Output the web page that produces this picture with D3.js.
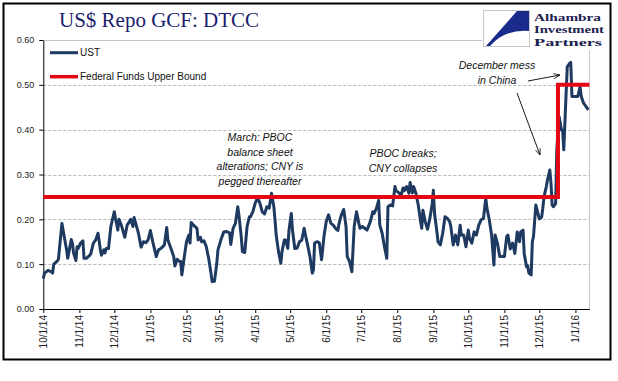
<!DOCTYPE html>
<html>
<head>
<meta charset="utf-8">
<script src="https://cdn.jsdelivr.net/npm/d3@7"></script>
<style>
  body { margin: 0; background: #fff; }
  svg { display: block; }
</style>
</head>
<body>
<svg id="chart" width="618" height="381"></svg>
<script>
// UST repo GCF rate (one line per month)
const ustDates = [
  "2014-10-01","2014-10-02","2014-10-05","2014-10-08","2014-10-09","2014-10-10","2014-10-13","2014-10-14","2014-10-17","2014-10-19","2014-10-21","2014-10-22","2014-10-25","2014-10-26","2014-10-27","2014-10-29","2014-10-30","2014-10-31",
  "2014-11-02","2014-11-04","2014-11-05","2014-11-07","2014-11-10","2014-11-11","2014-11-13","2014-11-15","2014-11-17","2014-11-19","2014-11-20","2014-11-22","2014-11-23","2014-11-24","2014-11-26","2014-11-28",
  "2014-12-01","2014-12-02","2014-12-04","2014-12-05","2014-12-07","2014-12-10","2014-12-12","2014-12-14","2014-12-15","2014-12-17","2014-12-18","2014-12-21","2014-12-22","2014-12-24","2014-12-26","2014-12-28","2014-12-30",
  "2015-01-01","2015-01-03","2015-01-06","2015-01-08","2015-01-10","2015-01-13","2015-01-15","2015-01-16","2015-01-19","2015-01-21","2015-01-22","2015-01-24","2015-01-26","2015-01-27","2015-01-28","2015-01-30",
  "2015-02-01","2015-02-03","2015-02-04","2015-02-05","2015-02-07","2015-02-10","2015-02-11","2015-02-13","2015-02-14","2015-02-16","2015-02-18","2015-02-20","2015-02-22","2015-02-23","2015-02-25","2015-02-27","2015-02-28",
  "2015-03-03","2015-03-05","2015-03-07","2015-03-10","2015-03-11","2015-03-13","2015-03-15","2015-03-17","2015-03-18","2015-03-20","2015-03-21","2015-03-23","2015-03-25","2015-03-27","2015-03-28","2015-03-30",
  "2015-04-01","2015-04-03","2015-04-05","2015-04-07","2015-04-09","2015-04-11","2015-04-13","2015-04-15","2015-04-17","2015-04-18","2015-04-19","2015-04-21","2015-04-23","2015-04-24","2015-04-26","2015-04-27","2015-04-29","2015-04-30",
  "2015-05-02","2015-05-03","2015-05-05","2015-05-07","2015-05-09","2015-05-11","2015-05-13","2015-05-15","2015-05-16","2015-05-18","2015-05-20","2015-05-21","2015-05-22","2015-05-24","2015-05-26","2015-05-28","2015-05-30",
  "2015-06-01","2015-06-03","2015-06-05","2015-06-07","2015-06-09","2015-06-11","2015-06-12","2015-06-14","2015-06-16","2015-06-18","2015-06-19","2015-06-21","2015-06-23","2015-06-25","2015-06-27","2015-06-29","2015-06-30",
  "2015-07-02","2015-07-04","2015-07-06","2015-07-09","2015-07-11","2015-07-12","2015-07-14","2015-07-16","2015-07-17","2015-07-19","2015-07-21","2015-07-23","2015-07-24","2015-07-26","2015-07-28","2015-07-30","2015-07-31",
  "2015-08-03","2015-08-04","2015-08-06","2015-08-07","2015-08-09","2015-08-11","2015-08-12","2015-08-14","2015-08-15","2015-08-17","2015-08-19","2015-08-21","2015-08-22","2015-08-23","2015-08-25","2015-08-27","2015-08-29","2015-08-31",
  "2015-09-01","2015-09-02","2015-09-04","2015-09-05","2015-09-07","2015-09-09","2015-09-11","2015-09-13","2015-09-15","2015-09-16","2015-09-18","2015-09-20","2015-09-22","2015-09-24","2015-09-25","2015-09-27","2015-09-29",
  "2015-10-01","2015-10-02","2015-10-04","2015-10-06","2015-10-08","2015-10-10","2015-10-12","2015-10-14","2015-10-16","2015-10-17","2015-10-19","2015-10-21","2015-10-22","2015-10-23","2015-10-24","2015-10-26","2015-10-28","2015-10-30",
  "2015-11-01","2015-11-03","2015-11-04","2015-11-06","2015-11-08","2015-11-10","2015-11-12","2015-11-14","2015-11-15","2015-11-17","2015-11-18","2015-11-20","2015-11-21","2015-11-22","2015-11-24","2015-11-25","2015-11-26","2015-11-28","2015-11-30",
  "2015-12-01","2015-12-03","2015-12-04","2015-12-05","2015-12-07","2015-12-08","2015-12-10","2015-12-11","2015-12-12","2015-12-13","2015-12-15","2015-12-16","2015-12-18","2015-12-20","2015-12-21","2015-12-22","2015-12-24","2015-12-25","2015-12-27","2015-12-28","2015-12-29",
  "2016-01-01","2016-01-03","2016-01-05","2016-01-06","2016-01-08","2016-01-10","2016-01-12"
];
const ustValues = [
  0.068,0.080,0.086,0.083,0.080,0.100,0.107,0.111,0.191,0.161,0.132,0.113,0.155,0.147,0.125,0.108,0.139,0.135,
  0.147,0.152,0.113,0.113,0.120,0.125,0.147,0.154,0.169,0.132,0.120,0.132,0.125,0.135,0.135,0.184,
  0.217,0.202,0.176,0.200,0.187,0.160,0.187,0.195,0.200,0.184,0.204,0.176,0.165,0.138,0.150,0.148,0.154,
  0.175,0.150,0.117,0.132,0.135,0.143,0.182,0.154,0.132,0.117,0.096,0.111,0.106,0.106,0.076,0.115,
  0.150,0.165,0.147,0.193,0.187,0.180,0.154,0.160,0.150,0.152,0.139,0.113,0.080,0.061,0.062,0.102,0.132,
  0.158,0.172,0.173,0.170,0.144,0.180,0.191,0.228,0.210,0.161,0.128,0.126,0.184,0.206,0.206,0.217,
  0.236,0.249,0.236,0.217,0.212,0.228,0.225,0.258,0.228,0.199,0.165,0.128,0.102,0.128,0.154,0.154,0.135,0.176,
  0.213,0.176,0.135,0.136,0.150,0.154,0.180,0.154,0.143,0.117,0.080,0.087,0.147,0.150,0.148,0.110,0.161,
  0.195,0.210,0.191,0.187,0.180,0.175,0.191,0.210,0.222,0.184,0.117,0.106,0.083,0.184,0.217,0.191,0.180,
  0.184,0.180,0.176,0.196,0.217,0.213,0.224,0.242,0.187,0.169,0.139,0.113,0.228,0.232,0.230,0.273,0.264,
  0.258,0.250,0.270,0.264,0.273,0.258,0.282,0.259,0.273,0.258,0.232,0.196,0.180,0.220,0.195,0.178,0.202,0.235,
  0.265,0.213,0.173,0.150,0.143,0.169,0.206,0.202,0.195,0.184,0.143,0.165,0.143,0.187,0.165,0.165,0.139,
  0.176,0.158,0.147,0.172,0.165,0.187,0.199,0.202,0.247,0.225,0.199,0.165,0.132,0.098,0.165,0.147,0.117,0.117,
  0.117,0.162,0.165,0.134,0.147,0.124,0.172,0.150,0.172,0.176,0.124,0.094,0.096,0.080,0.076,0.150,0.162,0.232,0.211,
  0.201,0.205,0.225,0.250,0.273,0.288,0.310,0.281,0.232,0.228,0.235,0.355,0.429,0.399,0.399,0.355,0.481,0.540,0.548,0.550,0.474,
  0.474,0.474,0.496,0.474,0.459,0.452,0.444
];

// Federal funds upper bound (step)
const fedDates = ["2014-10-01", "2015-12-17", "2016-01-13"];
const fedValues = [0.25, 0.50, 0.50];

const xDomain = ["2014-10-01", "2016-01-13"];
const yTicks = [0, 0.1, 0.2, 0.3, 0.4, 0.5, 0.6];
const seriesNames = ["UST", "Federal Funds Upper Bound"];

const notes = [
  { lines: ["March: PBOC", "balance sheet", "alterations; CNY is", "pegged thereafter"], x: 260, y: 141 },
  { lines: ["PBOC breaks;", "CNY collapses"], x: 403, y: 157 },
  { lines: ["December mess", "in China"], x: 497, y: 69 }
];

const parse = d3.timeParse("%Y-%m-%d");
const ust = ustDates.map((d, i) => ({ date: parse(d), v: ustValues[i] }));
const fed = fedDates.map((d, i) => ({ date: parse(d), v: fedValues[i] }));

const svg = d3.select("#chart");
const plotLeft = 43.3, plotRight = 589.4, plotTop = 40, plotBottom = 309;

const x = d3.scaleTime().domain(xDomain.map(parse)).range([plotLeft, plotRight]);
const y = d3.scaleLinear().domain([0, 0.6]).range([plotBottom, plotTop]);

// outer frame
svg.append("rect")
    .attr("x", 3.5).attr("y", 3.5)
    .attr("width", 607).attr("height", 356)
    .attr("fill", "#fff")
    .attr("stroke", "#000")
    .attr("stroke-width", 2);

// title
svg.append("text")
    .attr("x", 59).attr("y", 27)
    .attr("fill", "#1c2070")
    .style("font-family", "'Liberation Serif', serif")
    .style("font-size", "21px")
    .text("US$ Repo GCF: DTCC");

// gridlines
svg.append("g").selectAll("line")
    .data(yTicks.filter(t => t > 0 && t < 0.6))
    .join("line")
    .attr("x1", plotLeft).attr("x2", plotRight)
    .attr("y1", d => Math.round(y(d)) + 0.5).attr("y2", d => Math.round(y(d)) + 0.5)
    .attr("stroke", "#b8b8b8")
    .attr("stroke-dasharray", "3,2");

// plot area border (top and right)
svg.append("path")
    .attr("d", `M${plotLeft},${plotTop + 0.5}H${plotRight}V${plotBottom}`)
    .attr("fill", "none")
    .attr("stroke", "#c4c4c4");

// y axis
const yAxis = svg.append("g")
    .attr("transform", `translate(${plotLeft},0)`)
    .call(d3.axisLeft(y).tickValues(yTicks).tickFormat(d3.format(".2f")).tickSize(4).tickSizeOuter(0).tickPadding(5));

// x axis
const xAxis = svg.append("g")
    .attr("transform", `translate(0,${plotBottom})`)
    .call(d3.axisBottom(x).ticks(d3.timeMonth.every(1)).tickFormat(d3.timeFormat("%-m/%-d/%y")).tickSize(4).tickSizeOuter(0));

[yAxis, xAxis].forEach(g => {
    g.select(".domain").attr("stroke", "#000");
    g.selectAll(".tick line").attr("stroke", "#000");
    g.selectAll("text")
        .attr("fill", "#222")
        .style("font-family", "'Liberation Sans', Arial, sans-serif")
        .style("font-size", "9px");
});

xAxis.selectAll("text")
    .attr("transform", "rotate(-90)")
    .attr("x", -6).attr("y", 0)
    .attr("dy", "0.35em")
    .style("text-anchor", "end")
    .style("font-size", "10px");

// UST line
svg.append("path")
    .datum(ust)
    .attr("fill", "none")
    .attr("stroke", "#1f3a60")
    .attr("stroke-width", 3)
    .attr("stroke-linejoin", "round")
    .attr("d", d3.line().x(d => x(d.date)).y(d => y(d.v)));

// fed funds step line
svg.append("path")
    .datum(fed)
    .attr("fill", "none")
    .attr("stroke", "#e30613")
    .attr("stroke-width", 4)
    .attr("d", d3.line().x(d => x(d.date)).y(d => y(d.v)).curve(d3.curveStepAfter));

// legend
const legendColors = ["#1f3a60", "#e30613"];
const legend = svg.append("g").selectAll("g")
    .data(seriesNames)
    .join("g")
    .attr("transform", (d, i) => `translate(50,${52.7 + i * 24})`);
legend.append("line")
    .attr("x1", 0).attr("x2", 28)
    .attr("stroke", (d, i) => legendColors[i])
    .attr("stroke-width", (d, i) => i ? 3.5 : 3);
legend.append("text")
    .attr("x", 30).attr("dy", "0.35em")
    .attr("fill", "#111")
    .style("font-family", "'Liberation Sans', Arial, sans-serif")
    .style("font-size", "10px")
    .text(d => d);

// annotations
notes.forEach(n => {
    svg.append("text")
        .attr("text-anchor", "middle")
        .attr("fill", "#111")
        .style("font-family", "'Liberation Sans', Arial, sans-serif")
        .style("font-style", "italic")
        .style("font-size", "10.5px")
        .selectAll("tspan")
        .data(n.lines)
        .join("tspan")
        .attr("x", n.x)
        .attr("y", (d, i) => n.y + i * 14.5)
        .text(d => d);
});

// arrows
svg.append("defs").append("marker")
    .attr("id", "arrowhead")
    .attr("viewBox", "0 0 10 10")
    .attr("refX", 10).attr("refY", 5)
    .attr("markerWidth", 7).attr("markerHeight", 7)
    .attr("orient", "auto")
    .append("path")
    .attr("d", "M0,1L10,5L0,9")
    .attr("fill", "none")
    .attr("stroke", "#000")
    .attr("stroke-width", 1.2);

const arrows = [[528, 81, 560, 75], [517, 93, 540, 155]];
svg.append("g").selectAll("line")
    .data(arrows)
    .join("line")
    .attr("x1", d => d[0]).attr("y1", d => d[1])
    .attr("x2", d => d[2]).attr("y2", d => d[3])
    .attr("stroke", "#000")
    .attr("stroke-width", 0.9)
    .attr("marker-end", "url(#arrowhead)");

// logo
const logo = svg.append("g");
logo.append("rect")
    .attr("x", 482).attr("y", 6)
    .attr("width", 126).attr("height", 44)
    .attr("fill", "#fff");
logo.append("rect")
    .attr("x", 483.5).attr("y", 10.5)
    .attr("width", 46).attr("height", 36)
    .attr("fill", "#fff")
    .attr("stroke", "#c8c8c8");
logo.append("path")
    .attr("d", "M517,11L529,11L529,31Q505,29 490,46L486,46Z")
    .attr("fill", "#1a2b8c");
const logoWords = ["Alhambra", "Investment", "Partners"];
const logoWidths = [67, 70, 68];
logoWords.forEach((word, i) => {
    logo.append("text")
        .attr("x", 534)
        .attr("y", 21 + i * 12.3)
        .attr("fill", "#1c2050")
        .attr("textLength", logoWidths[i])
        .attr("lengthAdjust", "spacingAndGlyphs")
        .style("font-family", "'Liberation Serif', serif")
        .style("font-weight", "bold")
        .style("font-size", "11px")
        .text(word);
});
</script>
</body>
</html>
